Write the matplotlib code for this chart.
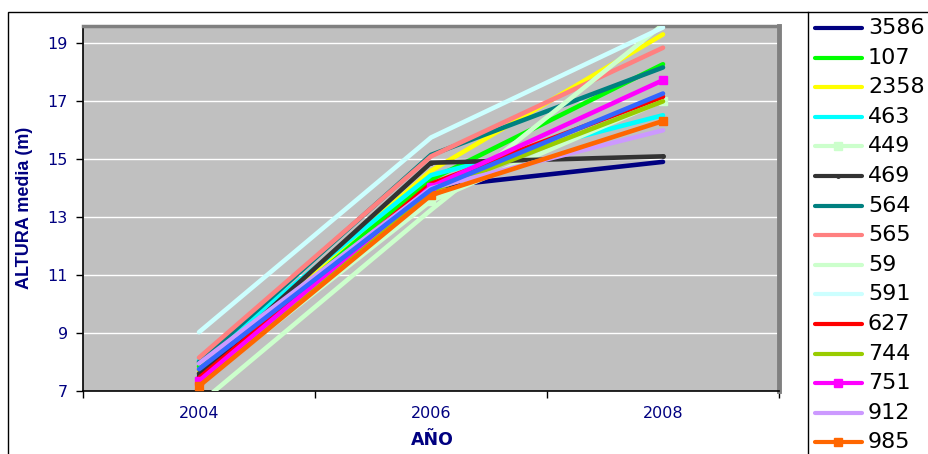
import matplotlib
matplotlib.use("Agg")
import matplotlib.pyplot as plt
from matplotlib.lines import Line2D
from matplotlib.patches import Rectangle

# Mean height (m) per plot, measured in 2004, 2006 and 2008
years = ["2004", "2006", "2008"]
series_names = ["3586", "107", "2358", "463", "449", "469", "564", "565",
                "59", "591", "627", "744", "751", "912", "985", ""]
h_3586 = [7.50, 14.03, 14.91]
h_107 = [7.85, 14.30, 18.28]
h_2358 = [7.70, 14.60, 19.31]
h_463 = [8.05, 14.45, 16.52]
h_449 = [7.25, 13.56, 17.02]
h_469 = [7.60, 14.88, 15.10]
h_564 = [8.00, 15.15, 18.17]
h_565 = [8.15, 15.10, 18.85]
h_59 = [6.55, 13.25, 19.65]
h_591 = [9.03, 15.75, 19.55]
h_627 = [7.45, 14.15, 17.16]
h_744 = [7.30, 13.90, 17.00]
h_751 = [7.35, 14.05, 17.73]
h_912 = [7.95, 14.00, 16.00]
h_985 = [7.17, 13.76, 16.32]
h_extra = [7.75, 13.95, 17.27]
series_values = [h_3586, h_107, h_2358, h_463, h_449, h_469, h_564, h_565,
                 h_59, h_591, h_627, h_744, h_751, h_912, h_985, h_extra]

colors = ["#000080", "#00FF00", "#FFFF00", "#00FFFF", "#CCFFCC", "#333333",
          "#008080", "#FF8080", "#CCFFCC", "#CCFFFF", "#FF0000", "#99CC00",
          "#FF00FF", "#CC99FF", "#FF6600", "#3366FF"]
markers = [None, None, None, None, "s", "o", None, None,
           None, None, None, None, "s", None, "s", None]
marker_sizes = [0, 0, 0, 0, 6, 2.5, 0, 0, 0, 0, 0, 0, 6, 0, 6, 0]
y_ticks = [7, 9, 11, 13, 15, 17, 19]

W, H = 929, 454
fig = plt.figure(figsize=(W / 100, H / 100), dpi=100)

# outer chart border and legend box
fig.add_artist(Rectangle((8 / W, -0.1), 1.2, 1 - 12 / H + 0.1, transform=fig.transFigure,
                         fill=False, edgecolor="black", linewidth=1.0))
fig.add_artist(Line2D([808 / W, 808 / W], [-0.1, 1 - 12 / H], transform=fig.transFigure,
                      color="black", linewidth=1.0))

left, right, top, bottom = 83, 779, 26, 391
ax = fig.add_axes([left / W, 1 - bottom / H, (right - left) / W, (bottom - top) / H])
ax.set_facecolor("#C0C0C0")

x = list(range(len(years)))
for name, vals, c, m, ms in zip(series_names, series_values, colors, markers, marker_sizes):
    ax.plot(x, vals, color=c, linewidth=3.3, marker=m, markersize=ms,
            markeredgecolor=c, markerfacecolor=c, solid_capstyle="round", zorder=3)

ax.set_xlim(-0.5, len(years) - 0.5)
ax.set_ylim(7, 19.6)
ax.set_yticks(y_ticks)
ax.set_yticklabels([str(t) for t in y_ticks])
for t in y_ticks[1:]:
    ax.axhline(t, color="white", linewidth=1.0, zorder=1)

ax.set_xticks([i - 0.5 for i in range(len(years) + 1)])
ax.set_xticklabels([])
ax.set_xticks(x, minor=True)
ax.set_xticklabels(years, minor=True)
ax.tick_params(axis="x", which="major", length=5, width=1, color="black", direction="out")
ax.tick_params(axis="x", which="minor", length=0, pad=11, labelsize=11.5, labelcolor="#000080")
ax.tick_params(axis="y", length=5, width=1, color="black", direction="out",
               labelsize=11.5, labelcolor="#000080", pad=6)

for s in ["top", "right"]:
    ax.spines[s].set_color("#808080")
ax.spines["top"].set_linewidth(2.5)
ax.spines["right"].set_linewidth(3.5)
for s in ["left", "bottom"]:
    ax.spines[s].set_color("black")
    ax.spines[s].set_linewidth(1.2)

fig.text(25 / W, 1 - 208 / H, "ALTURA media (m)", rotation=90, ha="center", va="center",
         fontsize=13, fontweight="bold", color="#000080",
         family=["Liberation Sans Narrow", "Liberation Sans"])
fig.text(432 / W, 1 - 440 / H, "AÑO", ha="center", va="center",
         fontsize=12.5, fontweight="bold", color="#000080")

# legend entries
for i, (name, c, m, ms) in enumerate(zip(series_names, colors, markers, marker_sizes)):
    if not name:
        continue
    yy = 1 - (28 + i * 29.6) / H
    fig.add_artist(Line2D([815 / W, 862 / W], [yy, yy], transform=fig.transFigure,
                          color=c, linewidth=3.0, solid_capstyle="round"))
    if m:
        fig.add_artist(Line2D([838.5 / W], [yy], transform=fig.transFigure, color=c,
                              marker=m, markersize=ms, markeredgecolor=c, markerfacecolor=c,
                              linestyle="none"))
    fig.text(868 / W, yy, name, ha="left", va="center", fontsize=16, color="black")

fig.savefig("out.png", dpi=100)
